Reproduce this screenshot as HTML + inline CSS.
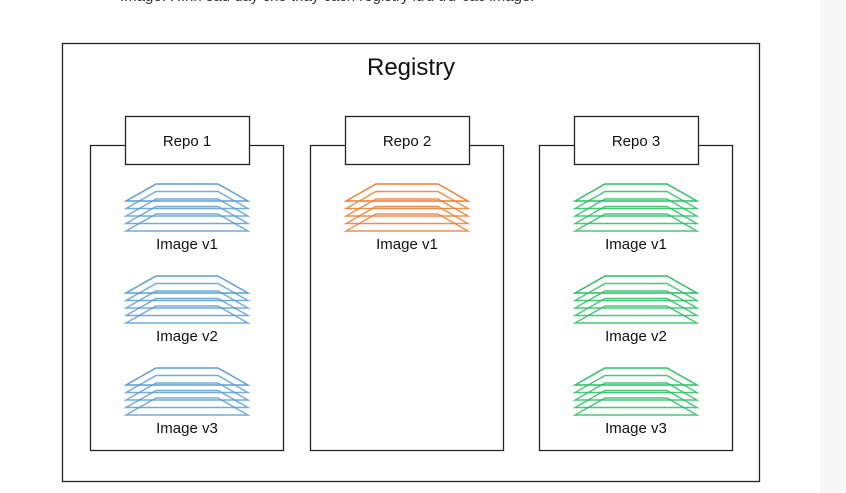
<!DOCTYPE html>
<html><head><meta charset="utf-8"><style>
body{margin:0;width:846px;height:493px;overflow:hidden;background:#fff;font-family:"Liberation Sans",sans-serif}
</style></head><body>
<svg width="846" height="493" style="position:absolute;left:0;top:0">
<rect x="820" y="0" width="26" height="493" fill="#f7f7f7"/>
<text x="120" y="1" font-size="15" fill="#333">Image. Hình sau đây cho thấy cách registry lưu trữ các image.</text>
<rect x="62.5" y="43.5" width="697" height="438" fill="none" stroke="#222" stroke-width="1.3"/>
<text x="411" y="75" font-size="24" text-anchor="middle" fill="#111">Registry</text>
<g id="repos"></g>
</svg>
<script>
const repos=["Repo 1","Repo 2","Repo 3"];
const repoX=[90,310,539];
const colors=["#5b9bd5","#ed7d31","#27c060"];
const images=[["Image v1","Image v2","Image v3"],["Image v1"],["Image v1","Image v2","Image v3"]];
const stackTops=[184,276,368];
const NS="http://www.w3.org/2000/svg";
const g=document.getElementById('repos');
function mk(t,a){const e=document.createElementNS(NS,t);for(const k in a)e.setAttribute(k,a[k]);g.appendChild(e);return e;}
repos.forEach((name,i)=>{
  const x=repoX[i];
  const box=mk('path',{d:`M${x+35} 145.5 H${x+0.5} V450.5 H${x+193.5} V145.5 H${x+159}`,fill:'none',stroke:'#222','stroke-width':1.3});
  
  
  const lb=mk('rect',{x:x+35.5,y:116.5,width:124,height:48,fill:'#fff',stroke:'#222','stroke-width':1.3});
  
  
  const lt=mk('text',{x:x+97,y:146,'font-size':15,'text-anchor':'middle',fill:'#111'});
  lt.textContent=name;
  
  
  const cx=x+97;
  images[i].forEach((im,j)=>{
    const y0=stackTops[j];
    for(let k=4;k>=0;k--){
      const y=y0+k*7.5;
      const p=mk('polygon',{points:`${cx-31},${y} ${cx+31},${y} ${cx+61},${y+17} ${cx-61},${y+17}`,fill:'none',stroke:colors[i],'stroke-width':1.4,'stroke-opacity':k===0?1:0.85});
      
      
    }
    const t=mk('text',{x:cx,y:y0+65,'font-size':15,'text-anchor':'middle',fill:'#111'});
    t.textContent=im;
    
    
  });
});
</script>
</body></html>
